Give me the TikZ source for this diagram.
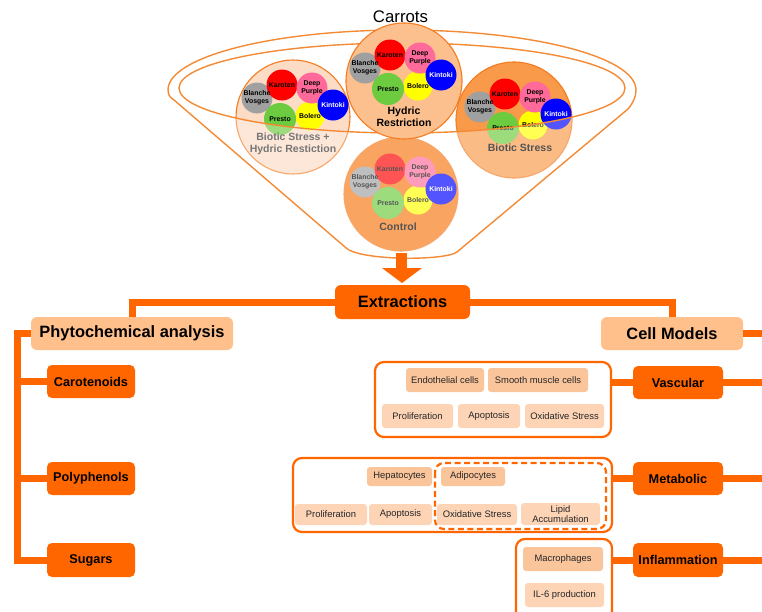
\documentclass[tikz,border=0pt]{standalone}
\usepackage{fontspec}
\setmainfont{Liberation Sans}
\definecolor{dor}{HTML}{FF6600}
\definecolor{peach}{HTML}{FFC08C}
\definecolor{cellc}{HTML}{FBC59C}
\definecolor{assayc}{HTML}{FDD4B6}
\definecolor{fun}{HTML}{F58A35}
\definecolor{cbord}{HTML}{F47C20}
\definecolor{ckar}{HTML}{FF0000}
\definecolor{cdp}{HTML}{FF6A9B}
\definecolor{ckin}{HTML}{0000FF}
\definecolor{cbv}{HTML}{A0A0A0}
\definecolor{cpre}{HTML}{6CCB3E}
\definecolor{cbol}{HTML}{FFFF00}
\definecolor{fhr}{HTML}{FCC08E}
\definecolor{fbshr}{HTML}{FDDCC6}
\definecolor{fbs}{HTML}{F99A4A}
\definecolor{fctl}{HTML}{F87814}
\tikzset{
 dot/.style={circle, inner sep=0pt, minimum size=31pt},
 dottext/.style={inner sep=0pt, align=center, font=\fontsize{6.9}{7.6}\selectfont\bfseries},
 grp/.style={circle, draw=cbord, line width=1.1pt, inner sep=0pt},
 grplabel/.style={align=center, font=\fontsize{10.5}{12}\selectfont\bfseries},
 darkbox/.style={fill=dor, rounded corners=5pt, inner sep=0pt, font=\fontsize{12.7}{14}\selectfont\bfseries, minimum width=88pt, minimum height=33pt},
 bigbox/.style={rounded corners=6pt, inner sep=0pt, font=\fontsize{16.4}{18}\selectfont\bfseries, minimum height=33pt},
 frame/.style={draw=dor, line width=2.2pt, rounded corners=9pt, fill=white, inner sep=0pt},
 smallbox/.style={rounded corners=3pt, inner sep=0pt, font=\fontsize{9.4}{10.4}\selectfont, text=black!85, align=center, minimum height=24pt},
 conn/.style={draw=dor, line width=7pt},
 funline/.style={draw=fun, line width=1.4pt},
}
\newcommand\carrotset[3]{%
 \begin{scope}[shift={(#2,#3)}]
  \node[dot,fill=cbv] (#1bv) at (-25,13) {};
  \node[dot,fill=ckar] (#1ka) at (0,0) {};
  \node[dot,fill=cbol,minimum size=29pt] (#1bo) at (28,31) {};
  \node[dot,fill=cdp] (#1dp) at (30,3) {};
  \node[dot,fill=ckin] (#1ki) at (51,20) {};
  \node[dot,fill=cpre,minimum size=32pt] (#1pr) at (-2,34) {};
  \node[dottext] (#1bvt) at (#1bv) {Blanche\\Vosges};
  \node[dottext] (#1kat) at (#1ka) {Karoten};
  \node[dottext] (#1bot) at (#1bo) {Bolero};
  \node[dottext] (#1dpt) at (#1dp) {Deep\\Purple};
  \node[dottext,text=white] (#1kit) at (#1ki) {Kintoki};
  \node[dottext] (#1prt) at (#1pr) {Presto};
 \end{scope}}
\begin{document}
\begin{tikzpicture}[x=1pt,y=-1pt]
\useasboundingbox (0,0) rectangle (762,611);
\clip (0,0) rectangle (762,611);
\fill[white] (0,0) rectangle (762,611);
% groups under the funnel overlay
\node[grp, fill=fbshr, minimum size=114pt] (gbshr) at (293,117) {};
\carrotset{a}{282}{85}
\node[grplabel, text=black!80] (lbshr) at (293,144) {Biotic Stress +\\Hydric Restiction};
\node[grp, fill=fbs, minimum size=116pt] (gbs) at (514,120) {};
\carrotset{b}{505}{94}
\node[grplabel] (lbs) at (520,148) {Biotic Stress};
\node[grp, fill=fctl, minimum size=114pt] (gctl) at (401,194) {};
\carrotset{c}{390}{169}
\node[grplabel] (lctl) at (398,227) {Control};
% overlay of funnel body
\fill[white, fill opacity=.33, even odd rule]
 (174,100) .. controls (168,96) and (168,93) .. (168,90)
 arc[start angle=180, end angle=0, x radius=234pt, y radius=60pt]
 .. controls (636,97) and (633,103) .. (628,109) -- (457,252)
 .. controls (445,261) and (357,261) .. (345,247) -- cycle
 (402,88) ellipse [x radius=223pt, y radius=45pt];
% funnel lines
\draw[funline]
 (174,100) .. controls (168,96) and (168,93) .. (168,90)
 arc[start angle=180, end angle=0, x radius=234pt, y radius=60pt]
 .. controls (636,97) and (633,103) .. (628,109) -- (457,252)
 .. controls (445,261) and (357,261) .. (345,247) -- cycle;
\draw[funline] (402,88) ellipse [x radius=223pt, y radius=45pt];
% hydric restriction on top
\node[grp, fill=fhr, minimum size=116pt] (ghr) at (404,81) {};
\carrotset{h}{390}{55}
\node[grplabel] (lhr) at (404,117) {Hydric\\Restriction};
\node[font=\fontsize{16.8}{18}\selectfont] (carrots) at (400.5,16.5) {Carrots};
% arrow
\fill[dor] (396,253) rectangle (407,268);
\fill[dor] (382,268) -- (422,268) -- (402,283) -- cycle;
% main boxes
\node[bigbox, fill=dor, minimum width=135pt, minimum height=34pt] (ext) at (402.5,302) {Extractions};
\node[bigbox, fill=peach, minimum width=202pt] (phyto) at (132,333.5) {Phytochemical analysis};
\node[bigbox, fill=peach, minimum width=142pt] (cell) at (672,333.5) {Cell Models};
\node[darkbox] (car) at (91,381.5) {Carotenoids};
\node[darkbox] (poly) at (91,478.5) {Polyphenols};
\node[darkbox, minimum height=34pt] (sug) at (91,560) {Sugars};
\node[darkbox, minimum width=90pt] (vasc) at (678,382.5) {Vascular};
\node[darkbox, minimum width=90pt] (metab) at (678,478.5) {Metabolic};
\node[darkbox, minimum width=90pt, minimum height=34pt] (infl) at (678,560) {Inflammation};
\coordinate (lbus) at (17,400);
\coordinate (redge) at (775,0);
% connectors
\draw[conn] (ext.west) -| (phyto.north);
\draw[conn] (ext.east) -| (cell.north);
\draw[conn] (phyto.west) -| (lbus) |- (sug.west);
\draw[conn] (car.west) -- (car.west -| lbus);
\draw[conn] (poly.west) -- (poly.west -| lbus);
\draw[conn] (cell.east) -- (cell.east -| redge);
\draw[conn] (vasc.east) -- (vasc.east -| redge);
\draw[conn] (metab.east) -- (metab.east -| redge);
\draw[conn] (infl.east) -- (infl.east -| redge);
% frames
\node[frame, minimum width=236pt, minimum height=75pt] (vfr) at (493,399.5) {};
\node[frame, minimum width=319pt, minimum height=74pt] (mfr) at (452.5,495) {};
\node[frame, minimum width=96pt, minimum height=90pt] (ifr) at (564,584) {};
\draw[dor, line width=2.2pt, dash pattern=on 6pt off 3.5pt, rounded corners=9pt] (435,463) rectangle (606,529);
\draw[conn] (vasc.west) -- (vasc.west -| vfr.east);
\draw[conn] (metab.west) -- (metab.west -| mfr.east);
\draw[conn] (infl.west) -- (infl.west -| ifr.east);
% vascular contents
\node[smallbox, fill=cellc, minimum width=78pt] (endo) at (445,380) {Endothelial cells};
\node[smallbox, fill=cellc, minimum width=100pt] (smc) at (538,380) {Smooth muscle cells};
\node[smallbox, fill=assayc, minimum width=71pt] (vprol) at (417.5,416) {Proliferation};
\node[smallbox, fill=assayc, minimum width=62pt] (vapo) at (489,416) {Apoptosis};
\node[smallbox, fill=assayc, minimum width=79pt] (vox) at (564.5,416) {Oxidative Stress};
% metabolic contents
\node[smallbox, fill=cellc, minimum width=65pt, minimum height=19pt] (hep) at (399.5,476.5) {Hepatocytes};
\node[smallbox, fill=cellc, minimum width=64pt, minimum height=19pt] (adi) at (473,476.5) {Adipocytes};
\node[smallbox, fill=assayc, minimum width=72pt, minimum height=21pt] (mprol) at (331,514.5) {Proliferation};
\node[smallbox, fill=assayc, minimum width=63pt, minimum height=21pt] (mapo) at (400.5,514.5) {Apoptosis};
\node[smallbox, fill=assayc, minimum width=80pt, minimum height=21pt] (mox) at (477,514.5) {Oxidative Stress};
\node[smallbox, fill=assayc, minimum width=79pt, minimum height=22pt] (lip) at (560.5,514) {Lipid\\Accumulation};
% inflammation contents
\node[smallbox, fill=cellc, minimum width=80pt] (mac) at (563,559) {Macrophages};
\node[smallbox, fill=assayc, minimum width=79pt] (il6) at (564.5,595) {IL-6 production};
\end{tikzpicture}
\end{document}
